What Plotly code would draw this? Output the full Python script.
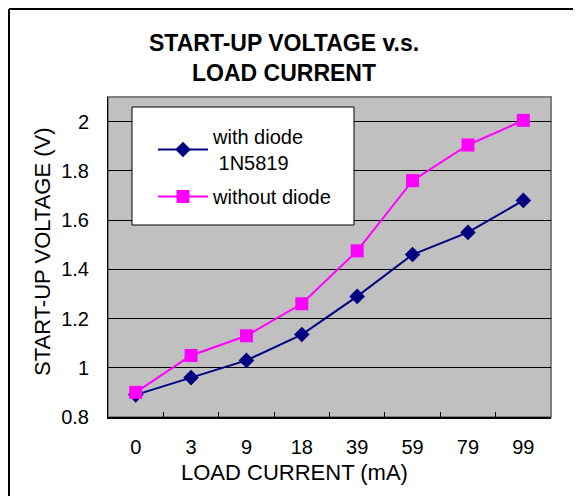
import plotly.graph_objects as go

categories = ["0", "3", "9", "18", "39", "59", "79", "99"]
with_diode = [0.89, 0.96, 1.03, 1.135, 1.29, 1.46, 1.55, 1.68]
without_diode = [0.90, 1.05, 1.13, 1.26, 1.475, 1.76, 1.905, 2.005]
y_ticks = [0.8, 1.0, 1.2, 1.4, 1.6, 1.8, 2.0]
y_tick_text = ["0.8", "1", "1.2", "1.4", "1.6", "1.8", "2"]

FONT = "Liberation Sans, Arial, sans-serif"

fig = go.Figure()
fig.add_trace(go.Scatter(
    x=categories, y=with_diode, mode="lines+markers",
    name="with diode<br>\u00a01N5819", legendgroup="a",
    line=dict(color="#000080", width=2),
    marker=dict(symbol="diamond", size=12, color="#000080"),
))
fig.add_trace(go.Scatter(
    x=categories, y=without_diode, mode="lines+markers",
    name="without diode", legendgroup="b",
    line=dict(color="#FF00FF", width=2),
    marker=dict(symbol="square", size=13, color="#FF00FF"),
))

OFF = 8  # page body margin
W, H = 573, 488
L, R, T, B = 100, 30, 89, 79
pw, ph = W - L - R, H - T - B

def px(xw):
    return (xw - OFF - L) / pw

def py(yw):
    return 1 - (yw - OFF - T) / ph

shapes = [
    dict(type="rect", xref="paper", yref="paper", x0=px(132), x1=px(354), y0=py(225), y1=py(107),
         fillcolor="white", line=dict(color="black", width=1), layer="above"),
    dict(type="rect", xref="paper", yref="paper", x0=0, x1=1, y0=0, y1=1,
         line=dict(color="#808080", width=2), layer="below"),
    dict(type="line", xref="paper", yref="paper", x0=px(9), x1=px(9), y0=py(9), y1=py(520),
         line=dict(color="black", width=2)),
    dict(type="line", xref="paper", yref="paper", x0=px(9), x1=px(600), y0=py(9), y1=py(9),
         line=dict(color="black", width=2)),
]

annotations = [
    dict(text="<b>START-UP VOLTAGE v.s.<br>LOAD CURRENT</b>", xref="paper", yref="paper",
         x=px(284), y=py(58), xanchor="center", yanchor="middle", showarrow=False,
         font=dict(size=23, color="black", family=FONT)),
    dict(text="LOAD CURRENT (mA)", xref="paper", yref="paper",
         x=px(294), y=py(472), xanchor="center", yanchor="middle", showarrow=False,
         font=dict(size=22, color="black", family=FONT)),
    dict(text="START-UP VOLTAGE (V)", xref="paper", yref="paper", textangle=-90,
         x=px(42), y=py(252), xanchor="center", yanchor="middle", showarrow=False,
         font=dict(size=22, color="black", family=FONT)),
]

fig.update_layout(
    width=W, height=H,
    margin=dict(l=L, r=R, t=T, b=B, autoexpand=False),
    paper_bgcolor="white", plot_bgcolor="#C0C0C0",
    font=dict(family=FONT, size=20, color="black"),
    showlegend=True,
    legend=dict(x=px(153), y=py(117), xanchor="left", yanchor="top",
                bgcolor="rgba(0,0,0,0)", borderwidth=0, itemwidth=50,
                font=dict(size=20, family=FONT, color="black"), tracegroupgap=5),
    shapes=shapes, annotations=annotations,
    xaxis=dict(type="category", range=[-0.5, 7.5], showgrid=False,
               showline=True, linecolor="black", linewidth=2,
               ticks="inside", tickson="boundaries", ticklen=5, tickcolor="black", tickwidth=1,
               tickfont=dict(size=20), ticklabelstandoff=11,
               zeroline=False, fixedrange=True),
    yaxis=dict(range=[0.8, 2.1], tickvals=y_ticks, ticktext=y_tick_text,
               showgrid=True, gridcolor="black", gridwidth=1,
               showline=True, linecolor="black", linewidth=1,
               ticks="", tickfont=dict(size=20), ticklabelstandoff=14,
               zeroline=False, fixedrange=True),
)

fig.write_html("out.html")
